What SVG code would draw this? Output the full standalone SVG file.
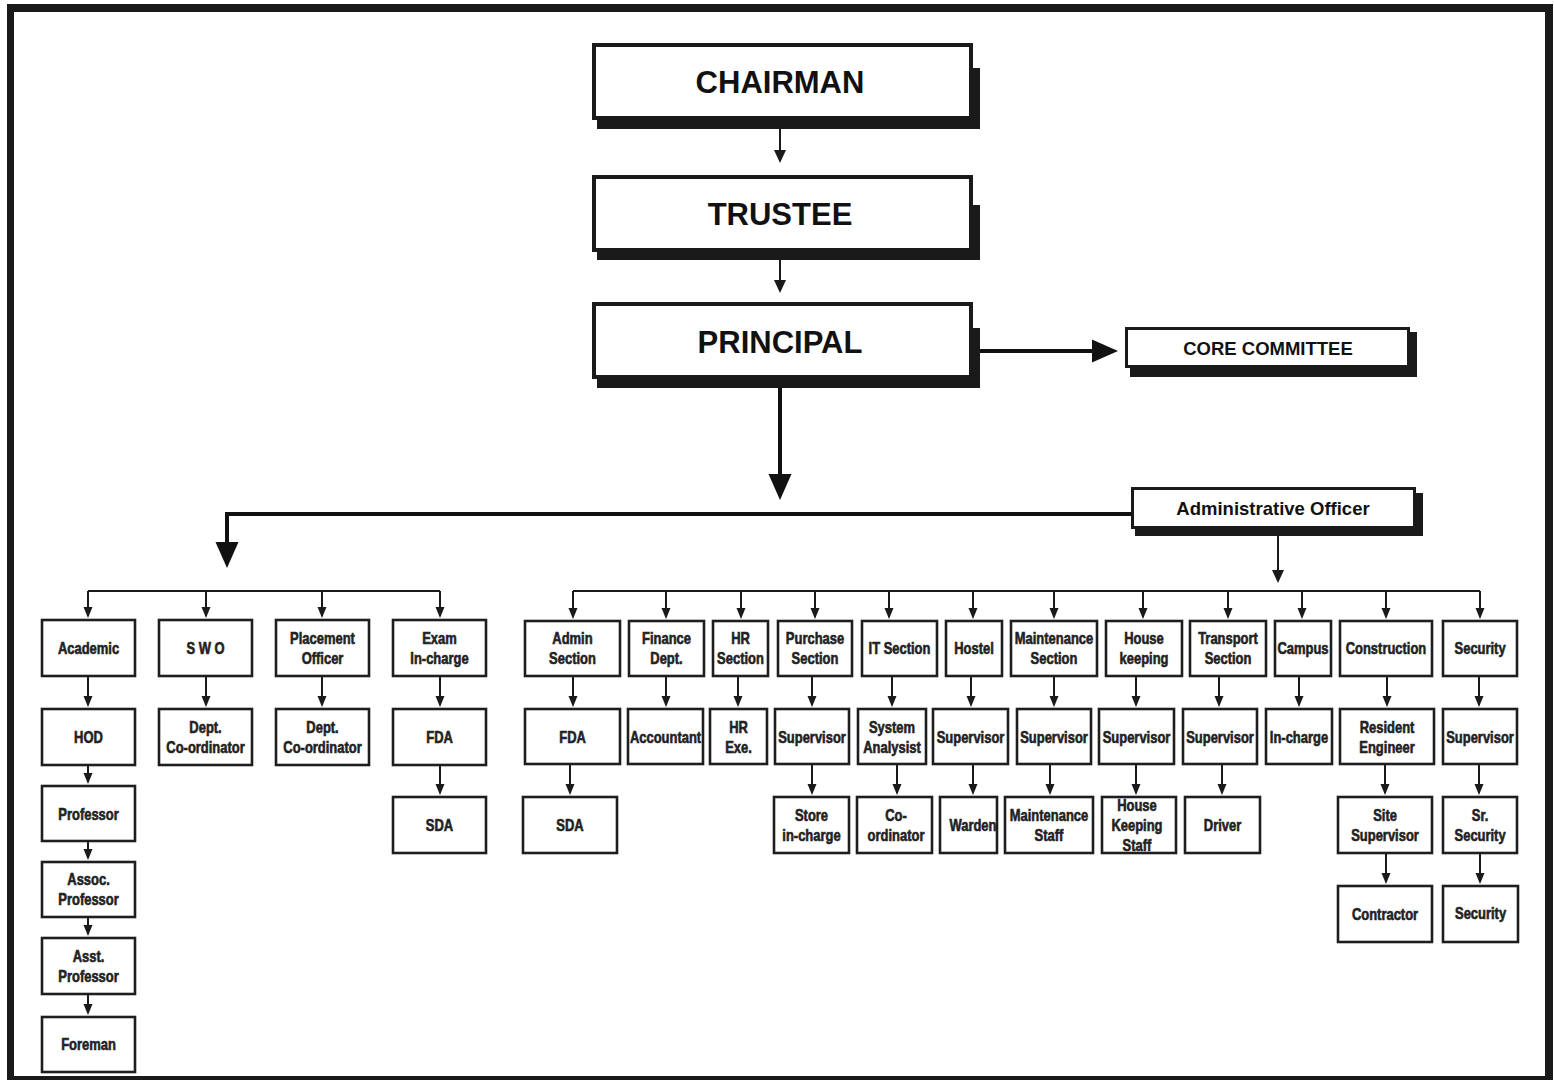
<svg xmlns="http://www.w3.org/2000/svg" width="1554" height="1080" viewBox="0 0 1554 1080">
<style>
.bx{fill:#fff;stroke:#1e1e1e;stroke-width:2.6}
.bb{fill:#fff;stroke:#1a1a1a;stroke-width:4}
.bm{fill:#fff;stroke:#1a1a1a;stroke-width:3}
.sh{fill:#1a1a1a}
.ln{fill:none;stroke:#1a1a1a;stroke-width:2}
.lt{fill:none;stroke:#111;stroke-width:4}
.big{font-family:"Liberation Sans",Arial,sans-serif;font-weight:bold;font-size:31px;text-anchor:middle;fill:#111}
.mid{font-family:"Liberation Sans",Arial,sans-serif;font-weight:bold;font-size:18.5px;text-anchor:middle;fill:#111}
.lb{font-family:"Liberation Sans",Arial,sans-serif;font-weight:bold;font-size:16px;text-anchor:middle;fill:#222;stroke:#222;stroke-width:0.6;transform-box:fill-box;transform-origin:center;transform:scaleX(0.81)}
</style>
<defs>
<marker id="as" markerUnits="userSpaceOnUse" markerWidth="12" markerHeight="10" viewBox="0 -5 12 10" refX="9" refY="0" orient="auto"><path d="M0,-4.5 L11,0 L0,4.5z" fill="#1a1a1a"/></marker>
<marker id="am" markerUnits="userSpaceOnUse" markerWidth="14" markerHeight="13" viewBox="0 -6.5 14 13" refX="11" refY="0" orient="auto"><path d="M0,-6 L13,0 L0,6z" fill="#1a1a1a"/></marker>
<marker id="al" markerUnits="userSpaceOnUse" markerWidth="27" markerHeight="24" viewBox="0 -12 27 24" refX="22" refY="0" orient="auto"><path d="M0,-11.5 L26,0 L0,11.5z" fill="#111"/></marker>
</defs>
<rect width="1554" height="1080" fill="#fff"/>
<g id="frame" fill="#1a1a1a">
<rect x="7" y="4" width="1546" height="8"/>
<rect x="7" y="4" width="7" height="1076"/>
<rect x="1545" y="4" width="8" height="1076"/>
<rect x="7" y="1076" width="1546" height="4"/>
</g>
<g id="connectors">
<path class="ln" d="M780,129 V161" marker-end="url(#am)"/>
<path class="ln" d="M780,260 V291" marker-end="url(#am)"/>
<path class="lt" d="M780,388 V496" marker-end="url(#al)"/>
<path class="lt" d="M980,351 H1114" marker-end="url(#al)"/>
<path class="lt" d="M1131,514 H227 V564" marker-end="url(#al)"/>
<path class="ln" d="M1278,536 V581" marker-end="url(#am)"/>
<path class="ln" d="M88,591 H440"/>
<path class="ln" d="M573,591 H1480"/>
<g marker-end="url(#as)" class="ln">
<path d="M88,591 V616"/><path d="M206,591 V616"/><path d="M322,591 V616"/><path d="M440,591 V616"/>
<path d="M573,591 V617"/><path d="M666,591 V617"/><path d="M741,591 V617"/><path d="M815,591 V617"/><path d="M889,591 V617"/><path d="M973,591 V617"/><path d="M1054,591 V617"/><path d="M1143,591 V617"/><path d="M1228,591 V617"/><path d="M1302,591 V617"/><path d="M1386,591 V617"/><path d="M1480,591 V617"/>
<path d="M88,677 V705"/><path d="M206,677 V705"/><path d="M322,677 V705"/><path d="M440,677 V705"/>
<path d="M88,766 V782"/><path d="M88,842 V858"/><path d="M88,918 V934"/><path d="M88,995 V1013"/>
<path d="M440,766 V793"/>
<path d="M573,677 V705"/><path d="M666,677 V705"/><path d="M738,677 V705"/><path d="M812,677 V705"/><path d="M892,677 V705"/><path d="M971,677 V705"/><path d="M1054,677 V705"/><path d="M1136,677 V705"/><path d="M1219,677 V705"/><path d="M1299,677 V705"/><path d="M1387,677 V705"/><path d="M1479,677 V705"/>
<path d="M570,765 V793"/><path d="M812,765 V793"/><path d="M897,765 V793"/><path d="M973,765 V793"/><path d="M1050,765 V793"/><path d="M1136,765 V793"/><path d="M1222,765 V793"/><path d="M1385,765 V793"/><path d="M1479,765 V793"/>
<path d="M1386,854 V882"/><path d="M1480,854 V882"/>
</g>
</g>
<g id="chairman"><rect class="sh" x="597" y="68" width="383" height="61"/><rect class="bb" x="594" y="45" width="377" height="73"/><text class="big" x="780" y="93">CHAIRMAN</text></g>
<g id="trustee"><rect class="sh" x="597" y="205" width="383" height="55"/><rect class="bb" x="594" y="177" width="377" height="73"/><text class="big" x="780" y="225">TRUSTEE</text></g>
<g id="principal"><rect class="sh" x="597" y="328" width="383" height="60"/><rect class="bb" x="594" y="304" width="377" height="73"/><text class="big" x="780" y="353">PRINCIPAL</text></g>
<g id="core-committee"><rect class="sh" x="1130" y="332" width="287" height="45"/><rect class="bm" x="1126.5" y="328.5" width="282" height="38"/><text class="mid" x="1268" y="355">CORE COMMITTEE</text></g>
<g id="admin-officer"><rect class="sh" x="1135" y="493" width="288" height="43"/><rect class="bm" x="1132.5" y="488.5" width="282" height="39"/><text class="mid" x="1273" y="515">Administrative Officer</text></g>

<g id="academic"><rect class="bx" x="42" y="620" width="93" height="56"/><text class="lb" x="88.5" y="654">Academic</text></g>
<g id="swo"><rect class="bx" x="159" y="620" width="93" height="56"/><text class="lb" x="205.5" y="654">S W O</text></g>
<g id="placement"><rect class="bx" x="276" y="620" width="93" height="56"/><text class="lb" x="322.5" y="644"><tspan x="322.5">Placement</tspan><tspan x="322.5" dy="20">Officer</tspan></text></g>
<g id="exam"><rect class="bx" x="393" y="620" width="93" height="56"/><text class="lb" x="439.5" y="644"><tspan x="439.5">Exam</tspan><tspan x="439.5" dy="20">In-charge</tspan></text></g>
<g id="hod"><rect class="bx" x="42" y="709" width="93" height="56"/><text class="lb" x="88.5" y="743">HOD</text></g>
<g id="swo-coord"><rect class="bx" x="159" y="709" width="93" height="56"/><text class="lb" x="205.5" y="733"><tspan x="205.5">Dept.</tspan><tspan x="205.5" dy="20">Co-ordinator</tspan></text></g>
<g id="placement-coord"><rect class="bx" x="276" y="709" width="93" height="56"/><text class="lb" x="322.5" y="733"><tspan x="322.5">Dept.</tspan><tspan x="322.5" dy="20">Co-ordinator</tspan></text></g>
<g id="exam-fda"><rect class="bx" x="393" y="709" width="93" height="56"/><text class="lb" x="439.5" y="743">FDA</text></g>
<g id="professor"><rect class="bx" x="42" y="786" width="93" height="55"/><text class="lb" x="88.5" y="820">Professor</text></g>
<g id="assoc"><rect class="bx" x="42" y="862" width="93" height="55"/><text class="lb" x="88.5" y="885.5"><tspan x="88.5">Assoc.</tspan><tspan x="88.5" dy="20">Professor</tspan></text></g>
<g id="asst"><rect class="bx" x="42" y="938" width="93" height="56"/><text class="lb" x="88.5" y="962"><tspan x="88.5">Asst.</tspan><tspan x="88.5" dy="20">Professor</tspan></text></g>
<g id="foreman"><rect class="bx" x="42" y="1017" width="93" height="55"/><text class="lb" x="88.5" y="1050.5">Foreman</text></g>
<g id="exam-sda"><rect class="bx" x="393" y="797" width="93" height="56"/><text class="lb" x="439.5" y="831">SDA</text></g>

<g id="admin-section"><rect class="bx" x="525" y="621" width="95" height="55"/><text class="lb" x="572.5" y="644.5"><tspan x="572.5">Admin</tspan><tspan x="572.5" dy="20">Section</tspan></text></g>
<g id="finance"><rect class="bx" x="629" y="621" width="75" height="55"/><text class="lb" x="666.5" y="644.5"><tspan x="666.5">Finance</tspan><tspan x="666.5" dy="20">Dept.</tspan></text></g>
<g id="hr"><rect class="bx" x="713" y="621" width="55" height="55"/><text class="lb" x="740.5" y="644.5"><tspan x="740.5">HR</tspan><tspan x="740.5" dy="20">Section</tspan></text></g>
<g id="purchase"><rect class="bx" x="778" y="621" width="74" height="55"/><text class="lb" x="815" y="644.5"><tspan x="815">Purchase</tspan><tspan x="815" dy="20">Section</tspan></text></g>
<g id="it"><rect class="bx" x="862" y="621" width="75" height="55"/><text class="lb" x="899.5" y="654.5">IT Section</text></g>
<g id="hostel"><rect class="bx" x="946" y="621" width="56" height="55"/><text class="lb" x="974" y="654.5">Hostel</text></g>
<g id="maintenance"><rect class="bx" x="1011" y="621" width="86" height="55"/><text class="lb" x="1054" y="644.5"><tspan x="1054">Maintenance</tspan><tspan x="1054" dy="20">Section</tspan></text></g>
<g id="housekeeping"><rect class="bx" x="1106" y="621" width="76" height="55"/><text class="lb" x="1144" y="644.5"><tspan x="1144">House</tspan><tspan x="1144" dy="20">keeping</tspan></text></g>
<g id="transport"><rect class="bx" x="1190" y="621" width="76" height="55"/><text class="lb" x="1228" y="644.5"><tspan x="1228">Transport</tspan><tspan x="1228" dy="20">Section</tspan></text></g>
<g id="campus"><rect class="bx" x="1275" y="621" width="56" height="55"/><text class="lb" x="1303" y="654.5">Campus</text></g>
<g id="construction"><rect class="bx" x="1340" y="621" width="92" height="55"/><text class="lb" x="1386" y="654.5">Construction</text></g>
<g id="security"><rect class="bx" x="1443" y="621" width="74" height="55"/><text class="lb" x="1480" y="654.5">Security</text></g>

<g id="admin-fda"><rect class="bx" x="525" y="709" width="95" height="55"/><text class="lb" x="572.5" y="743">FDA</text></g>
<g id="accountant"><rect class="bx" x="628" y="709" width="75" height="55"/><text class="lb" x="665.5" y="743">Accountant</text></g>
<g id="hr-exe"><rect class="bx" x="710" y="709" width="57" height="55"/><text class="lb" x="738.5" y="733"><tspan x="738.5">HR</tspan><tspan x="738.5" dy="20">Exe.</tspan></text></g>
<g id="purchase-sup"><rect class="bx" x="775" y="709" width="74" height="55"/><text class="lb" x="812" y="743">Supervisor</text></g>
<g id="system-analysist"><rect class="bx" x="858" y="709" width="68" height="55"/><text class="lb" x="892" y="733"><tspan x="892">System</tspan><tspan x="892" dy="20">Analysist</tspan></text></g>
<g id="hostel-sup"><rect class="bx" x="933" y="709" width="75" height="55"/><text class="lb" x="970.5" y="743">Supervisor</text></g>
<g id="maint-sup"><rect class="bx" x="1017" y="709" width="74" height="55"/><text class="lb" x="1054" y="743">Supervisor</text></g>
<g id="hk-sup"><rect class="bx" x="1099" y="709" width="75" height="55"/><text class="lb" x="1136.5" y="743">Supervisor</text></g>
<g id="transport-sup"><rect class="bx" x="1183" y="709" width="74" height="55"/><text class="lb" x="1220" y="743">Supervisor</text></g>
<g id="campus-incharge"><rect class="bx" x="1266" y="709" width="66" height="55"/><text class="lb" x="1299" y="743">In-charge</text></g>
<g id="resident-engineer"><rect class="bx" x="1340" y="709" width="94" height="55"/><text class="lb" x="1387" y="733"><tspan x="1387">Resident</tspan><tspan x="1387" dy="20">Engineer</tspan></text></g>
<g id="security-sup"><rect class="bx" x="1443" y="709" width="74" height="55"/><text class="lb" x="1480" y="743">Supervisor</text></g>

<g id="admin-sda"><rect class="bx" x="523" y="797" width="94" height="56"/><text class="lb" x="570" y="831">SDA</text></g>
<g id="store"><rect class="bx" x="774" y="797" width="75" height="56"/><text class="lb" x="811.5" y="821"><tspan x="811.5">Store</tspan><tspan x="811.5" dy="20">in-charge</tspan></text></g>
<g id="it-coord"><rect class="bx" x="857" y="797" width="75" height="56"/><text class="lb" x="896" y="821"><tspan x="896">Co-</tspan><tspan x="896" dy="20">ordinator</tspan></text></g>
<g id="warden"><rect class="bx" x="940" y="797" width="57" height="56"/><text class="lb" x="973" y="831">Warden</text></g>
<g id="maint-staff"><rect class="bx" x="1005" y="797" width="88" height="56"/><text class="lb" x="1049" y="821"><tspan x="1049">Maintenance</tspan><tspan x="1049" dy="20">Staff</tspan></text></g>
<g id="hk-staff"><rect class="bx" x="1102" y="797" width="74" height="56"/><text class="lb" x="1137" y="811"><tspan x="1137">House</tspan><tspan x="1137" dy="20">Keeping</tspan><tspan x="1137" dy="20">Staff</tspan></text></g>
<g id="driver"><rect class="bx" x="1185" y="797" width="75" height="56"/><text class="lb" x="1222.5" y="831">Driver</text></g>
<g id="site-sup"><rect class="bx" x="1338" y="797" width="94" height="56"/><text class="lb" x="1385" y="821"><tspan x="1385">Site</tspan><tspan x="1385" dy="20">Supervisor</tspan></text></g>
<g id="sr-security"><rect class="bx" x="1443" y="797" width="74" height="56"/><text class="lb" x="1480" y="821"><tspan x="1480">Sr.</tspan><tspan x="1480" dy="20">Security</tspan></text></g>

<g id="contractor"><rect class="bx" x="1338" y="886" width="94" height="56"/><text class="lb" x="1385" y="920">Contractor</text></g>
<g id="security-staff"><rect class="bx" x="1443" y="886" width="75" height="56"/><text class="lb" x="1480.5" y="919">Security</text></g>
</svg>
